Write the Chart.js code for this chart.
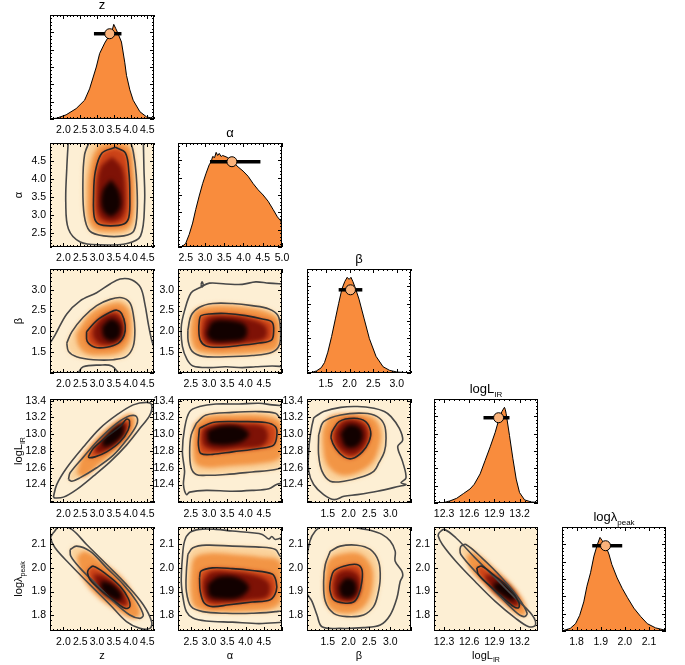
<!DOCTYPE html>
<html>
<head>
<meta charset="utf-8">
<script src="https://cdn.jsdelivr.net/npm/chart.js@4.4.1/dist/chart.umd.min.js"></script>
<style>
  body { margin: 0; background: #fff; width: 685px; height: 665px; position: relative; overflow: hidden; }
  canvas { position: absolute; }
</style>
</head>
<body>
<script>
const FONT = '"Liberation Sans", Arial, sans-serif';

// ---- tick labels ----
const zTicks = [2.0, 2.5, 3.0, 3.5, 4.0, 4.5];
const alphaTicks = [2.5, 3.0, 3.5, 4.0, 4.5];
const alphaHistTicks = [2.5, 3.0, 3.5, 4.0, 4.5, 5.0];
const betaTicks = [1.5, 2.0, 2.5, 3.0];
const logLTicksX = [12.3, 12.6, 12.9, 13.2];
const logLTicksY = [12.4, 12.6, 12.8, 13.0, 13.2, 13.4];
const logLamTicks = [1.8, 1.9, 2.0, 2.1];
const histYTicks = [0, 1 / 6, 2 / 6, 3 / 6, 4 / 6, 5 / 6, 1];

// ---- 1D marginal histograms (height as fraction of the panel) ----
const zHistX = [1.6, 1.8, 2.08, 2.38, 2.63, 2.78, 2.98, 3.08, 3.23, 3.38, 3.46, 3.5, 3.56, 3.63, 3.73, 3.83, 3.88, 3.98, 4.08, 4.28, 4.48, 4.7];
const zHistY = [0, 0.008, 0.04, 0.10, 0.18, 0.29, 0.50, 0.63, 0.73, 0.81, 0.86, 0.91, 0.87, 0.82, 0.74, 0.54, 0.42, 0.28, 0.18, 0.07, 0.02, 0.005];

const alphaHistX = [2.3, 2.41, 2.5, 2.59, 2.68, 2.76, 2.85, 2.94, 3.03, 3.11, 3.16, 3.2, 3.25, 3.29, 3.33, 3.37, 3.42, 3.46, 3.59, 3.72, 3.86, 3.99, 4.12, 4.25, 4.38, 4.51, 4.64, 4.77, 4.88, 4.97, 5.0];
const alphaHistY = [0, 0.005, 0.035, 0.12, 0.23, 0.36, 0.49, 0.61, 0.71, 0.79, 0.82, 0.87, 0.86, 0.91, 0.88, 0.9, 0.87, 0.88, 0.86, 0.82, 0.77, 0.73, 0.68, 0.61, 0.55, 0.5, 0.44, 0.36, 0.29, 0.25, 0.2];

const betaHistX = [1.1, 1.2, 1.3, 1.4, 1.47, 1.54, 1.62, 1.70, 1.77, 1.84, 1.9, 1.95, 1.99, 2.03, 2.07, 2.12, 2.2, 2.31, 2.42, 2.56, 2.71, 2.85, 3.0, 3.15, 3.3];
const betaHistY = [0, 0.005, 0.02, 0.05, 0.1, 0.2, 0.35, 0.52, 0.67, 0.81, 0.88, 0.92, 0.9, 0.92, 0.88, 0.82, 0.71, 0.52, 0.33, 0.16, 0.06, 0.025, 0.01, 0.005, 0.003];

const logLHistX = [12.18, 12.3, 12.37, 12.45, 12.53, 12.61, 12.66, 12.73, 12.79, 12.85, 12.91, 12.945, 12.99, 13.02, 13.03, 13.04, 13.08, 13.12, 13.16, 13.2, 13.26, 13.34, 13.42];
const logLHistY = [0.003, 0.005, 0.02, 0.045, 0.09, 0.135, 0.18, 0.28, 0.41, 0.54, 0.68, 0.78, 0.88, 0.92, 0.9, 0.86, 0.65, 0.43, 0.23, 0.10, 0.03, 0.01, 0.006];

const logLamHistX = [1.74, 1.747, 1.774, 1.796, 1.813, 1.83, 1.843, 1.858, 1.872, 1.886, 1.897, 1.906, 1.92, 1.934, 1.946, 1.968, 1.989, 2.011, 2.037, 2.065, 2.093, 2.127, 2.163, 2.17];
const logLamHistY = [0, 0.006, 0.025, 0.07, 0.15, 0.28, 0.43, 0.56, 0.72, 0.83, 0.9, 0.87, 0.82, 0.74, 0.64, 0.51, 0.41, 0.32, 0.22, 0.14, 0.07, 0.03, 0.01, 0.008];

// best-fit value with its error bar, per parameter
const bestValue = [3.38, 3.70, 2.02, 12.95, 1.92];
const bestLow = [2.91, 3.13, 1.77, 12.77, 1.865];
const bestHigh = [3.73, 4.44, 2.27, 13.08, 1.989];
const markerLevel = [0.82, 0.82, 0.80, 0.82, 0.82];

// ---- 2D contours: outer line, 2-sigma, shading band, 1-sigma, core, peak ----
const zAlphaOuter = [[[2.15,5.15],[2.10,4.29],[2.07,3.35],[2.15,2.60],[2.50,2.24],[3.10,2.16],[3.90,2.20],[4.30,2.41],[4.42,3.35],[4.40,4.29],[4.38,5.15]]];
const zAlphaMid = [[2.80,5.09],[2.63,4.67],[2.58,3.82],[2.62,2.98],[2.78,2.55],[3.20,2.41],[3.80,2.41],[4.10,2.55],[4.20,3.16],[4.17,4.11],[4.08,4.77],[3.98,5.09]];
const zAlphaBand = [[3.55,5.05],[3.98,4.88],[4.1,4.2],[4.12,3.5],[4.06,2.82],[3.88,2.58],[3.40,2.52],[2.95,2.58],[2.75,2.86],[2.71,3.5],[2.76,4.2],[3.02,4.88],[3.55,5.05]];
const zAlphaInner = [[3.55,4.88],[3.85,4.72],[3.95,4.20],[3.98,3.54],[3.95,2.93],[3.80,2.74],[3.40,2.69],[3.05,2.74],[2.92,2.93],[2.90,3.54],[2.95,4.20],[3.15,4.72],[3.55,4.88]];
const zAlphaCore = [[3.45,4.62],[3.75,4.3],[3.85,3.5],[3.76,2.95],[3.42,2.8],[3.08,2.95],[3.0,3.5],[3.1,4.3],[3.45,4.62]];
const zAlphaPeak = [[3.42,3.98],[3.66,3.65],[3.7,3.2],[3.42,2.95],[3.16,3.15],[3.16,3.65],[3.42,3.98]];

const zBetaOuter = [
  [[1.58,1.69],[1.75,1.91],[2.10,2.42],[2.49,2.73],[2.99,2.93],[3.39,3.14],[3.69,3.26],[4.03,3.24],[4.30,3.05],[4.43,2.65],[4.53,2.18],[4.63,1.79],[4.72,1.58]],
  [[2.42,0.98],[2.59,1.15],[3.09,1.19],[3.44,1.17],[3.66,0.98]]
];
const zBetaMid = [[2.10,1.72],[2.25,1.99],[2.59,2.34],[2.99,2.62],[3.39,2.77],[3.74,2.81],[3.98,2.69],[4.08,2.42],[4.13,2.03],[4.08,1.64],[3.88,1.40],[3.49,1.32],[2.89,1.32],[2.39,1.39],[2.15,1.52],[2.10,1.72]];
const zBetaBand = [[2.38,1.95],[2.8,2.42],[3.35,2.65],[3.72,2.68],[3.96,2.5],[4.03,2.1],[3.95,1.72],[3.68,1.5],[3.2,1.43],[2.7,1.46],[2.44,1.66],[2.38,1.95]];
const zBetaInner = [[2.69,1.99],[2.99,2.26],[3.39,2.46],[3.59,2.51],[3.74,2.42],[3.84,2.15],[3.81,1.91],[3.64,1.72],[3.29,1.62],[2.94,1.62],[2.71,1.76],[2.69,1.99]];
const zBetaCore = [[2.88,2.05],[3.15,2.34],[3.55,2.43],[3.77,2.22],[3.76,1.88],[3.52,1.7],[3.12,1.69],[2.9,1.85],[2.88,2.05]];
const zBetaPeak = [[3.15,2.12],[3.42,2.3],[3.68,2.17],[3.68,1.88],[3.42,1.77],[3.19,1.88],[3.15,2.12]];

const alphaBetaOuter = [
  [[5.05,3.14],[4.64,3.16],[4.28,3.19],[3.91,3.13],[3.46,3.14],[3.01,3.16],[2.74,3.05],[2.51,2.93],[2.33,2.50],[2.24,2.11],[2.27,1.64],[2.40,1.32],[2.56,1.17],[3.01,1.13],[3.46,1.15],[3.91,1.13],[4.28,1.15],[4.73,1.17],[5.05,1.15]],
  [[2.78,3.12],[2.81,3.19],[2.84,3.12],[2.81,3.07],[2.78,3.12]]
];
const alphaBetaMid = [[2.42,2.03],[2.51,2.38],[2.74,2.58],[3.10,2.67],[3.64,2.67],[4.18,2.62],[4.64,2.54],[4.89,2.38],[4.96,2.03],[4.93,1.68],[4.73,1.50],[4.18,1.42],[3.46,1.39],[2.83,1.40],[2.54,1.52],[2.43,1.76],[2.42,2.03]];
const alphaBetaBand = [[2.5,2.1],[2.6,2.48],[3.0,2.6],[3.5,2.61],[4.1,2.56],[4.6,2.46],[4.9,2.28],[4.93,1.9],[4.85,1.58],[4.4,1.5],[3.7,1.46],[3.1,1.46],[2.66,1.55],[2.52,1.8],[2.5,2.1]];
const alphaBetaInner = [[2.74,2.30],[2.78,2.38],[3.01,2.42],[3.46,2.43],[4.01,2.38],[4.46,2.30],[4.73,2.22],[4.77,1.99],[4.71,1.79],[4.37,1.72],[3.73,1.65],[3.28,1.62],[2.92,1.65],[2.76,1.79],[2.72,2.07],[2.74,2.30]];
const alphaBetaCore = [[2.84,2.05],[2.95,2.32],[3.5,2.37],[4.1,2.3],[4.55,2.12],[4.55,1.85],[4.1,1.74],[3.5,1.69],[2.95,1.72],[2.84,1.9],[2.84,2.05]];
const alphaBetaPeak = [[2.95,2.0],[3.1,2.24],[3.55,2.27],[4.0,2.15],[4.0,1.85],[3.55,1.76],[3.1,1.77],[2.95,1.9],[2.95,2.0]];

const zLogLOuter = [[[1.70,12.25],[1.80,12.40],[2.10,12.60],[2.60,12.85],[3.09,13.07],[3.59,13.23],[4.08,13.35],[4.48,13.38],[4.63,13.35],[4.58,13.23],[4.28,13.07],[3.88,12.87],[3.39,12.67],[2.89,12.50],[2.39,12.34],[2.00,12.25],[1.75,12.24],[1.70,12.25]]];
const zLogLMid = [[2.15,12.46],[2.20,12.54],[2.60,12.73],[3.09,12.95],[3.59,13.13],[3.98,13.22],[4.18,13.21],[4.18,13.11],[3.88,12.93],[3.49,12.75],[2.99,12.60],[2.49,12.48],[2.25,12.44],[2.15,12.46]];
const zLogLBand = [[2.4,12.53],[2.55,12.73],[3.08,12.99],[3.6,13.16],[3.97,13.24],[4.12,13.19],[4.03,13.0],[3.62,12.82],[3.1,12.65],[2.62,12.49],[2.4,12.53]];
const zLogLInner = [[2.74,12.73],[2.89,12.83],[3.29,12.97],[3.69,13.09],[3.88,13.18],[3.97,13.16],[3.93,13.05],[3.69,12.91],[3.29,12.79],[2.94,12.73],[2.77,12.72],[2.74,12.73]];
const zLogLCore = [[2.92,12.84],[3.32,13.0],[3.76,13.15],[3.9,13.11],[3.76,12.97],[3.35,12.82],[3.0,12.77],[2.92,12.84]];
const zLogLPeak = [[3.15,12.92],[3.48,13.07],[3.76,13.12],[3.78,13.0],[3.46,12.88],[3.2,12.85],[3.15,12.92]];

const alphaLogLOuter = [[[5.05,13.34],[4.73,13.35],[4.37,13.37],[3.82,13.36],[3.19,13.36],[2.74,13.33],[2.47,13.27],[2.33,13.07],[2.27,12.79],[2.33,12.56],[2.30,12.40],[2.38,12.28],[2.47,12.31],[2.92,12.33],[3.64,12.32],[4.18,12.33],[4.64,12.35],[4.85,12.40],[5.05,12.42]]];
const alphaLogLMid = [[2.65,13.13],[2.92,13.23],[3.64,13.26],[4.37,13.27],[4.82,13.25],[4.95,13.19],[5.05,13.15],[5.07,12.79],[5.0,12.62],[4.82,12.58],[4.18,12.55],[3.46,12.52],[2.92,12.51],[2.65,12.52],[2.51,12.60],[2.47,12.79],[2.51,12.99],[2.65,13.13]];
const alphaLogLBand = [[2.58,13.11],[2.9,13.21],[3.7,13.23],[4.5,13.22],[4.95,13.15],[5.02,12.95],[4.95,12.72],[4.4,12.65],[3.6,12.62],[2.95,12.6],[2.64,12.65],[2.56,12.85],[2.58,13.11]];
const alphaLogLInner = [[2.74,13.07],[3.10,13.14],[3.82,13.15],[4.55,13.14],[4.82,13.09],[4.86,12.99],[4.77,12.87],[4.37,12.83],[3.64,12.79],[3.10,12.76],[2.78,12.77],[2.71,12.87],[2.72,12.99],[2.74,13.07]];
const alphaLogLCore = [[2.85,13.07],[3.3,13.12],[3.9,13.12],[4.5,13.09],[4.62,12.97],[4.45,12.86],[3.8,12.83],[3.2,12.81],[2.86,12.86],[2.8,12.97],[2.85,13.07]];
const alphaLogLPeak = [[2.95,13.04],[3.35,13.1],[3.85,13.09],[4.1,13.0],[3.85,12.9],[3.35,12.87],[3.0,12.9],[2.95,13.04]];

const betaLogLOuter = [[[1.20,13.21],[1.40,13.27],[1.81,13.32],[2.21,13.33],[2.61,13.31],[2.86,13.27],[3.02,13.21],[3.22,13.07],[3.30,12.93],[3.18,12.85],[3.30,12.67],[3.38,12.48],[3.26,12.42],[3.38,12.40],[3.22,12.38],[2.69,12.32],[2.21,12.28],[1.89,12.26],[1.65,12.22],[1.40,12.28],[1.16,12.40],[1.04,12.56],[1.04,12.79],[1.08,12.99],[1.16,13.19],[1.20,13.21]]];
const betaLogLMid = [[1.28,12.99],[1.40,13.15],[1.81,13.23],[2.37,13.25],[2.69,13.21],[2.86,13.11],[2.90,12.95],[2.86,12.79],[2.73,12.66],[2.61,12.56],[2.37,12.50],[1.89,12.44],[1.56,12.44],[1.36,12.56],[1.28,12.75],[1.28,12.99]];
const betaLogLBand = [[1.38,13.05],[1.56,13.21],[2.1,13.24],[2.6,13.19],[2.77,13.03],[2.73,12.84],[2.55,12.65],[2.15,12.53],[1.76,12.52],[1.47,12.65],[1.38,12.88],[1.38,13.05]];
const betaLogLInner = [[1.60,13.03],[1.77,13.15],[2.13,13.19],[2.41,13.15],[2.53,13.03],[2.49,12.91],[2.33,12.79],[2.09,12.71],[1.89,12.73],[1.69,12.83],[1.58,12.95],[1.60,13.03]];
const betaLogLCore = [[1.68,13.04],[1.85,13.15],[2.15,13.17],[2.4,13.1],[2.46,12.96],[2.33,12.82],[2.1,12.75],[1.86,12.79],[1.68,12.91],[1.68,13.04]];
const betaLogLPeak = [[1.8,13.01],[1.99,13.11],[2.27,13.08],[2.34,12.96],[2.19,12.85],[1.93,12.85],[1.8,13.01]];

const zLogLamOuter = [[[1.70,2.146],[1.90,2.175],[2.25,2.16],[2.69,2.097],[3.29,2.013],[3.88,1.929],[4.38,1.845],[4.63,1.774],[4.58,1.746],[4.28,1.746],[3.88,1.774],[3.39,1.845],[2.79,1.929],[2.20,2.013],[1.75,2.083],[1.62,2.125],[1.70,2.146]]];
const zLogLamMid = [[2.20,2.076],[2.39,2.09],[2.79,2.069],[3.29,1.999],[3.79,1.929],[4.18,1.859],[4.38,1.802],[4.28,1.788],[3.98,1.802],[3.49,1.859],[2.99,1.929],[2.49,1.999],[2.22,2.048],[2.20,2.076]];
const zLogLamBand = [[2.4,2.045],[2.65,2.068],[3.25,2.015],[3.78,1.953],[4.15,1.872],[4.28,1.807],[4.08,1.786],[3.65,1.815],[3.02,1.878],[2.55,1.962],[2.4,2.045]];
const zLogLamInner = [[2.74,1.992],[2.89,2.006],[3.29,1.971],[3.69,1.922],[3.93,1.872],[3.98,1.837],[3.84,1.83],[3.54,1.859],[3.09,1.908],[2.79,1.95],[2.72,1.978],[2.74,1.992]];
const zLogLamCore = [[2.88,1.972],[3.2,1.966],[3.62,1.92],[3.9,1.86],[3.84,1.84],[3.5,1.86],[3.06,1.908],[2.88,1.972]];
const zLogLamPeak = [[3.12,1.945],[3.45,1.932],[3.74,1.888],[3.66,1.862],[3.36,1.879],[3.14,1.908],[3.12,1.945]];

const alphaLogLamOuter = [[[5.05,2.128],[4.82,2.118],[4.72,2.13],[4.64,2.12],[4.46,2.139],[4.18,2.146],[3.64,2.153],[3.19,2.16],[2.74,2.16],[2.47,2.146],[2.33,2.111],[2.27,2.041],[2.24,1.942],[2.29,1.872],[2.38,1.816],[2.56,1.789],[2.92,1.777],[3.64,1.772],[4.37,1.766],[5.05,1.772]]];
const alphaLogLamMid = [[2.42,2.055],[2.56,2.083],[2.92,2.094],[3.64,2.09],[4.37,2.086],[4.82,2.076],[4.95,2.048],[5.09,2.041],[5.09,1.83],[4.82,1.816],[4.18,1.809],[3.46,1.809],[2.83,1.816],[2.51,1.837],[2.38,1.901],[2.38,1.985],[2.42,2.055]];
const alphaLogLamBand = [[2.5,1.97],[2.6,2.04],[3.0,2.06],[3.7,2.055],[4.4,2.045],[4.92,2.03],[5.0,1.95],[4.97,1.86],[4.72,1.828],[4.1,1.818],[3.4,1.815],[2.9,1.82],[2.6,1.84],[2.5,1.9],[2.5,1.97]];
const alphaLogLamInner = [[2.74,1.957],[2.78,1.985],[3.10,1.999],[3.64,1.996],[4.18,1.988],[4.73,1.973],[4.84,1.942],[4.84,1.901],[4.68,1.866],[4.18,1.856],[3.55,1.845],[3.10,1.837],[2.87,1.852],[2.76,1.901],[2.74,1.957]];
const alphaLogLamCore = [[2.84,1.948],[3.05,1.982],[3.6,1.982],[4.25,1.968],[4.65,1.935],[4.6,1.878],[4.1,1.864],[3.5,1.855],[3.0,1.858],[2.84,1.9],[2.84,1.948]];
const alphaLogLamPeak = [[2.96,1.93],[3.25,1.962],[3.8,1.958],[4.1,1.918],[3.85,1.876],[3.4,1.868],[3.02,1.88],[2.96,1.93]];

const betaLogLamOuter = [[[1.40,2.181],[1.20,2.153],[1.07,2.111],[0.98,2.013],[0.98,1.901],[1.12,1.859],[1.24,1.802],[1.36,1.753],[1.80,1.746],[2.36,1.749],[2.76,1.76],[3.00,1.802],[3.16,1.872],[3.24,1.942],[3.30,1.965],[3.28,1.985],[3.12,2.027],[3.12,2.069],[3.00,2.111],[2.80,2.139],[2.52,2.156],[2.20,2.167],[2.04,2.181]]];
const betaLogLamMid = [[1.56,2.069],[1.80,2.09],[2.20,2.094],[2.52,2.076],[2.72,2.027],[2.76,1.957],[2.70,1.886],[2.60,1.837],[2.36,1.802],[1.96,1.795],[1.64,1.809],[1.44,1.859],[1.40,1.942],[1.44,2.013],[1.56,2.069]];
const betaLogLamBand = [[1.42,1.95],[1.52,2.03],[1.85,2.058],[2.27,2.058],[2.55,2.005],[2.58,1.93],[2.45,1.855],[2.18,1.815],[1.8,1.81],[1.52,1.835],[1.42,1.89],[1.42,1.95]];
const betaLogLamInner = [[1.56,1.942],[1.64,1.985],[1.88,2.006],[2.20,2.013],[2.32,1.992],[2.32,1.942],[2.24,1.886],[2.12,1.856],[1.88,1.852],[1.64,1.866],[1.55,1.908],[1.56,1.942]];
const betaLogLamCore = [[1.63,1.935],[1.74,1.978],[2.0,1.99],[2.24,1.968],[2.28,1.91],[2.15,1.866],[1.9,1.86],[1.68,1.878],[1.63,1.935]];
const betaLogLamPeak = [[1.76,1.92],[1.92,1.955],[2.14,1.945],[2.19,1.9],[2.05,1.874],[1.83,1.88],[1.76,1.92]];

const logLLogLamOuter = [[[12.24,2.146],[12.30,2.16],[12.44,2.125],[12.67,2.041],[12.91,1.957],[13.15,1.872],[13.35,1.802],[13.39,1.76],[13.31,1.753],[13.15,1.789],[12.91,1.859],[12.67,1.942],[12.44,2.027],[12.28,2.097],[12.23,2.132],[12.24,2.146]]];
const logLLogLamMid = [[12.50,2.09],[12.56,2.097],[12.75,2.041],[12.99,1.957],[13.19,1.872],[13.29,1.809],[13.25,1.795],[13.15,1.816],[12.91,1.901],[12.67,1.985],[12.50,2.055],[12.49,2.076],[12.50,2.09]];
const logLLogLamBand = [[12.57,2.05],[12.66,2.062],[12.9,1.995],[13.12,1.922],[13.26,1.85],[13.27,1.805],[13.18,1.803],[12.99,1.857],[12.78,1.93],[12.6,2.0],[12.57,2.05]];
const logLLogLamInner = [[12.69,1.999],[12.75,2.006],[12.91,1.964],[13.09,1.908],[13.19,1.856],[13.19,1.833],[13.13,1.837],[12.99,1.879],[12.83,1.929],[12.71,1.971],[12.69,1.999]];
const logLLogLamCore = [[12.78,1.97],[12.93,1.965],[13.11,1.905],[13.2,1.848],[13.13,1.838],[12.99,1.875],[12.83,1.93],[12.78,1.97]];
const logLLogLamPeak = [[12.9,1.94],[13.04,1.93],[13.15,1.88],[13.12,1.862],[12.99,1.885],[12.89,1.915],[12.9,1.94]];

// ---- parameters: axis ranges, ticks, names ----
const params = [
  { name: 'z', sub: '', xRange: [1.6, 4.7], yRange: null, histRange: [1.6, 4.7], xTicks: zTicks, yTicks: null, histTicks: zTicks, histX: zHistX, histY: zHistY },
  { name: 'α', sub: '', xRange: [2.15, 5.0], yRange: [2.1, 5.0], histRange: [2.3, 5.0], xTicks: alphaTicks, yTicks: alphaTicks, histTicks: alphaHistTicks, histX: alphaHistX, histY: alphaHistY },
  { name: 'β', sub: '', xRange: [1.0, 3.5], yRange: [1.0, 3.5], histRange: [1.1, 3.3], xTicks: betaTicks, yTicks: betaTicks, histTicks: betaTicks, histX: betaHistX, histY: betaHistY },
  { name: 'logL', sub: 'IR', xRange: [12.18, 13.42], yRange: [12.18, 13.42], histRange: [12.18, 13.42], xTicks: logLTicksX, yTicks: logLTicksY, histTicks: logLTicksX, histX: logLHistX, histY: logLHistY },
  { name: 'logλ', sub: 'peak', xRange: null, yRange: [1.735, 2.17], histRange: [1.74, 2.17], xTicks: logLamTicks, yTicks: logLamTicks, histTicks: logLamTicks, histX: logLamHistX, histY: logLamHistY }
];

const contourPanels = [
  { row: 1, col: 0, levels: [zAlphaOuter, zAlphaMid, zAlphaBand, zAlphaInner, zAlphaCore, zAlphaPeak] },
  { row: 2, col: 0, levels: [zBetaOuter, zBetaMid, zBetaBand, zBetaInner, zBetaCore, zBetaPeak] },
  { row: 2, col: 1, levels: [alphaBetaOuter, alphaBetaMid, alphaBetaBand, alphaBetaInner, alphaBetaCore, alphaBetaPeak] },
  { row: 3, col: 0, levels: [zLogLOuter, zLogLMid, zLogLBand, zLogLInner, zLogLCore, zLogLPeak] },
  { row: 3, col: 1, levels: [alphaLogLOuter, alphaLogLMid, alphaLogLBand, alphaLogLInner, alphaLogLCore, alphaLogLPeak] },
  { row: 3, col: 2, levels: [betaLogLOuter, betaLogLMid, betaLogLBand, betaLogLInner, betaLogLCore, betaLogLPeak] },
  { row: 4, col: 0, levels: [zLogLamOuter, zLogLamMid, zLogLamBand, zLogLamInner, zLogLamCore, zLogLamPeak] },
  { row: 4, col: 1, levels: [alphaLogLamOuter, alphaLogLamMid, alphaLogLamBand, alphaLogLamInner, alphaLogLamCore, alphaLogLamPeak] },
  { row: 4, col: 2, levels: [betaLogLamOuter, betaLogLamMid, betaLogLamBand, betaLogLamInner, betaLogLamCore, betaLogLamPeak] },
  { row: 4, col: 3, levels: [logLLogLamOuter, logLLogLamMid, logLLogLamBand, logLLogLamInner, logLLogLamCore, logLLogLamPeak] }
];

// ---- layout / style ----
const colLeft = [50, 178, 307, 434, 562];
const rowTop = [15, 143, 269, 399, 527];
const SIZE = 104;
const M = { left: 46, top: 24, right: 10, bottom: 24, bottomLast: 38 };

const panelBg = '#fdefd4';
const shades = ['#fbd29b', '#f29545', '#cc4318', '#7e1206', '#120100'];
const lineGray = '#484848';
const lineDark = '#262626';
const histFill = '#f98c3d';
const markerFill = '#fbb37b';

function drawLabel(ctx, a, t) {
  const size = t.size || 11;
  let x, y, rot = 0;
  if (t.pos === 'top') { x = (a.left + a.right) / 2; y = a.top - 6; }
  else if (t.pos === 'bottom') { x = (a.left + a.right) / 2; y = a.bottom + 28; }
  else { x = a.left - 28; y = (a.top + a.bottom) / 2; rot = -Math.PI / 2; }
  const subSize = Math.round(size * 0.62);
  ctx.save();
  ctx.translate(x, y);
  ctx.rotate(rot);
  ctx.fillStyle = '#000';
  ctx.textAlign = 'left';
  ctx.textBaseline = 'alphabetic';
  ctx.font = size + 'px ' + FONT;
  const w1 = ctx.measureText(t.text).width;
  ctx.font = subSize + 'px ' + FONT;
  const w2 = t.sub ? ctx.measureText(t.sub).width : 0;
  const x0 = -(w1 + w2) / 2;
  ctx.font = size + 'px ' + FONT;
  ctx.fillText(t.text, x0, 0);
  if (t.sub) {
    ctx.font = subSize + 'px ' + FONT;
    ctx.fillText(t.sub, x0 + w1, size * 0.3);
  }
  ctx.restore();
}

// inward major/minor ticks on all four sides
function edgeTicks(ctx, a, scale, ticks, horizontal) {
  const step = ticks[2] - ticks[1];
  const minor = step / 5;
  const k0 = Math.ceil(scale.min / minor - 1e-6);
  for (let k = k0; k * minor <= scale.max + 1e-9; k++) {
    const v = k * minor;
    const r = v / step;
    const len = Math.abs(r - Math.round(r)) < 1e-6 ? 4 : 2;
    const p = Math.round(scale.getPixelForValue(v)) + 0.5;
    if (horizontal) {
      ctx.moveTo(p, a.bottom); ctx.lineTo(p, a.bottom - len);
      ctx.moveTo(p, a.top); ctx.lineTo(p, a.top + len);
    } else {
      ctx.moveTo(a.left, p); ctx.lineTo(a.left + len, p);
      ctx.moveTo(a.right, p); ctx.lineTo(a.right - len, p);
    }
  }
}

const panelPlugin = {
  id: 'panel',
  beforeDatasetsDraw(chart, args, opts) {
    const { ctx, chartArea: a } = chart;
    ctx.save();
    ctx.fillStyle = opts.background;
    ctx.fillRect(a.left, a.top, a.width, a.height);
    ctx.restore();
    if (opts.blur) ctx.filter = opts.blur;
  },
  beforeDatasetDraw(chart, args, opts) {
    const ds = chart.data.datasets[args.index];
    chart.ctx.filter = (ds.soft && opts.blur) ? opts.blur : 'none';
  },
  afterDatasetsDraw(chart, args, opts) {
    const { ctx, chartArea: a, scales } = chart;
    ctx.filter = 'none';
    ctx.save();
    ctx.strokeStyle = '#000';
    ctx.lineWidth = 1;
    ctx.beginPath();
    edgeTicks(ctx, a, scales.x, opts.xTicks, true);
    edgeTicks(ctx, a, scales.y, opts.yTicks, false);
    ctx.stroke();
    ctx.strokeRect(a.left + 0.5, a.top + 0.5, a.width - 1, a.height - 1);
    ctx.restore();
    (opts.labels || []).forEach(t => drawLabel(ctx, a, t));
  }
};

function axis(range, ticks, showLabels, size, horizontal) {
  return {
    type: 'linear',
    min: range[0],
    max: range[1],
    grid: { display: false, drawTicks: false },
    border: { display: false },
    ticks: {
      display: showLabels,
      autoSkip: false,
      maxRotation: 0,
      minRotation: 0,
      padding: horizontal ? 5 : 4,
      color: '#000',
      font: { size: 10.5, family: FONT },
      callback: v => Number(v).toFixed(1)
    },
    afterBuildTicks: s => { s.ticks = ticks.map(v => ({ value: v })); },
    afterFit: s => {
      if (horizontal) s.height = size; else s.width = size;
      s.paddingLeft = 0; s.paddingRight = 0; s.paddingTop = 0; s.paddingBottom = 0;
    }
  };
}

function makeChart(row, col, datasets, xAxis, yAxis, panelOpts) {
  const bottom = row === 4 ? M.bottomLast : M.bottom;
  const canvas = document.createElement('canvas');
  canvas.width = M.left + SIZE + M.right;
  canvas.height = M.top + SIZE + bottom;
  canvas.style.left = (colLeft[col] - M.left) + 'px';
  canvas.style.top = (rowTop[row] - M.top) + 'px';
  document.body.appendChild(canvas);
  xAxis.afterFit = (s => { s.height = bottom; s.paddingLeft = 0; s.paddingRight = 0; });
  return new Chart(canvas, {
    type: 'line',
    data: { datasets: datasets.slice().reverse() },   // first in list is drawn first
    options: {
      responsive: false,
      animation: false,
      devicePixelRatio: 1,
      events: [],
      layout: { padding: { left: 0, top: M.top, right: M.right, bottom: 0 } },
      elements: { point: { radius: 0 }, line: { tension: 0.35, capBezierPoints: false } },
      plugins: { legend: { display: false }, tooltip: { enabled: false }, panel: panelOpts },
      scales: { x: xAxis, y: yAxis }
    },
    plugins: [panelPlugin]
  });
}

// ---- diagonal: histograms ----
params.forEach((p, i) => {
  const hist = p.histX.map((x, k) => [x, p.histY[k]]);
  const datasets = [
    { data: hist, fill: 'origin', backgroundColor: histFill, borderColor: '#000', borderWidth: 1, tension: 0 },
    { data: [[bestLow[i], markerLevel[i]], [bestHigh[i], markerLevel[i]]], fill: false, borderColor: '#000', borderWidth: 3.5, tension: 0 },
    { data: [[bestValue[i], markerLevel[i]]], showLine: false, pointRadius: 5, pointBackgroundColor: markerFill, pointBorderColor: '#000', pointBorderWidth: 1 }
  ];
  makeChart(i, i, datasets,
    axis(p.histRange, p.histTicks, true, M.bottom, true),
    axis([0, 1], histYTicks, false, M.left, false),
    { background: 'rgba(0,0,0,0)', xTicks: p.histTicks, yTicks: histYTicks,
      labels: [{ text: p.name, sub: p.sub, pos: 'top', size: 13 }] });
});

// ---- lower triangle: 2D contours ----
contourPanels.forEach(cp => {
  const px = params[cp.col], py = params[cp.row];
  const [outer, mid, band, inner, core, peak] = cp.levels;
  const soft = (pts, color) => ({ data: pts, fill: 'shape', backgroundColor: color, borderColor: 'transparent', borderWidth: 0, soft: true });
  const line = (pts, color) => ({ data: pts, fill: false, borderColor: color, borderWidth: 1.6 });
  const datasets = [
    soft(mid, shades[0]), soft(band, shades[1]), soft(inner, shades[2]), soft(core, shades[3]), soft(peak, shades[4]),
    ...outer.map(seg => line(seg, lineGray)),
    line(mid, lineGray),
    line(inner, lineDark)
  ];
  const labels = [];
  if (cp.col === 0) labels.push({ text: py.name, sub: py.sub, pos: 'left', size: 11 });
  if (cp.row === 4) labels.push({ text: px.name, sub: px.sub, pos: 'bottom', size: 11 });
  makeChart(cp.row, cp.col, datasets,
    axis(px.xRange, px.xTicks, true, M.bottom, true),
    axis(py.yRange, py.yTicks, true, M.left, false),
    { background: panelBg, blur: 'blur(2px)', xTicks: px.xTicks, yTicks: py.yTicks, labels });
});
</script>
</body>
</html>
